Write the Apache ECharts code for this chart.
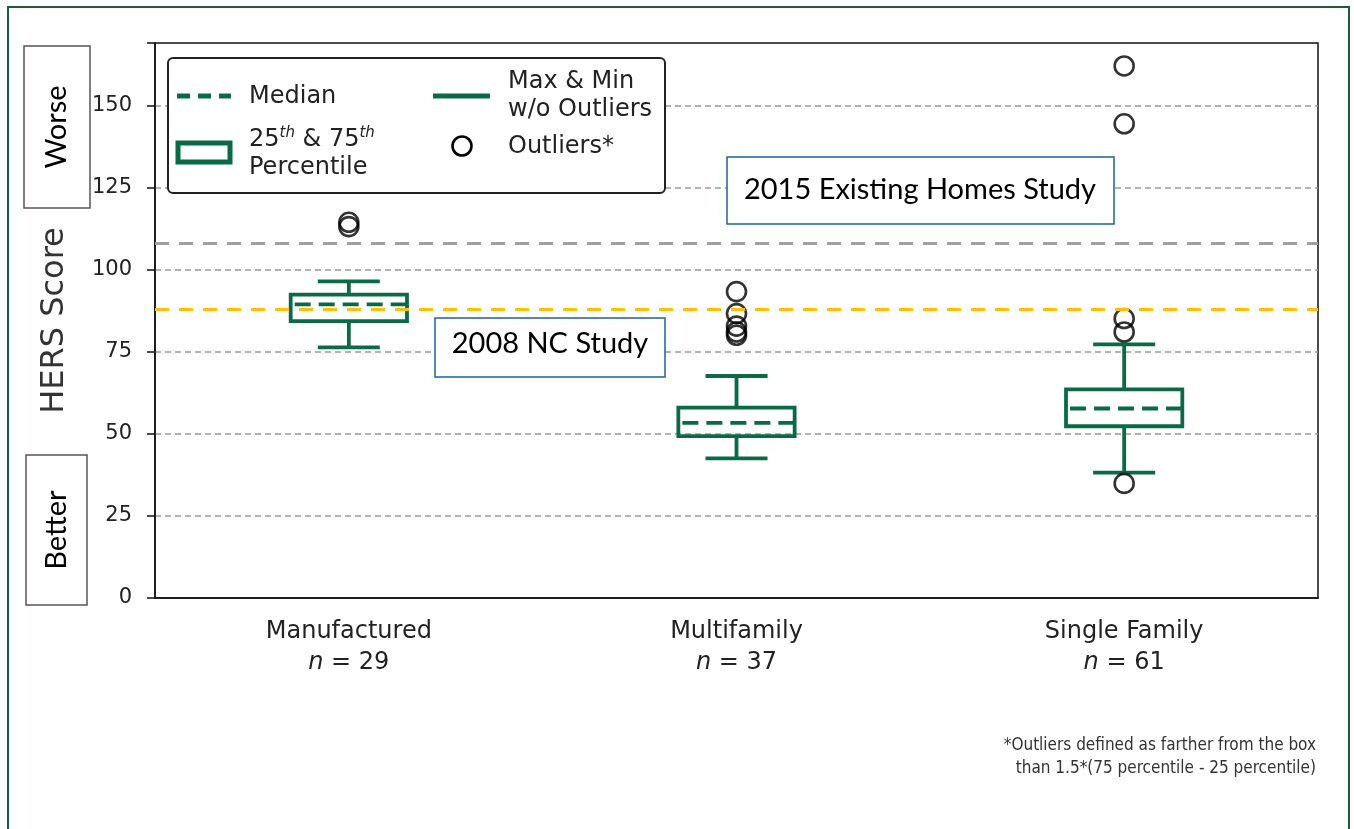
<!DOCTYPE html>
<html>
<head>
<meta charset="utf-8">
<script src="https://cdn.jsdelivr.net/npm/echarts@6/dist/echarts.min.js"></script>
<style>
  html, body { margin: 0; padding: 0; background: #fff; }
  #main { width: 1354px; height: 829px; }
</style>
</head>
<body>
<div id="main"></div>
<script>
var categories = ['Manufactured', 'Multifamily', 'Single Family'];
var counts = [29, 37, 61];
var whiskerLow = [76.3, 42.5, 38.2];
var q1 = [84.3, 49.3, 52.3];
var median = [89.4, 53.3, 57.7];
var q3 = [92.4, 58.0, 63.5];
var whiskerHigh = [96.4, 67.6, 77.2];
var outliersManufactured = [114.4, 113.1];
var outliersMultifamily = [93.3, 86.6, 82.8, 81.0, 80.0];
var outliersSingleFamily = [162.0, 144.4, 85.1, 81.0, 34.9];
var yTicks = [0, 25, 50, 75, 100, 125, 150];
var refExistingHomes = 108;
var refNCStudy = 88;

var green = '#0b6a46';
var myChart = echarts.init(document.getElementById('main'));

var boxData = categories.map(function (c, i) {
    return [i, whiskerLow[i], q1[i], median[i], q3[i], whiskerHigh[i]];
});
var outlierData = [];
[outliersManufactured, outliersMultifamily, outliersSingleFamily].forEach(function (arr, i) {
    arr.forEach(function (v) { outlierData.push([i, v]); });
});

// box + whiskers + dashed median, drawn through the axis scales
function renderBox(params, api) {
    var x = api.value(0);
    var lo = api.coord([x, api.value(1)]);
    var p25 = api.coord([x, api.value(2)]);
    var med = api.coord([x, api.value(3)]);
    var p75 = api.coord([x, api.value(4)]);
    var hi = api.coord([x, api.value(5)]);
    var band = api.size([1, 0])[0];
    var bw = band * 0.30, cw = band * 0.16;
    var cx = lo[0];
    var st = { stroke: green, lineWidth: 3.8, fill: null };
    return {
        type: 'group',
        children: [
            { type: 'line', shape: { x1: cx, y1: hi[1], x2: cx, y2: p75[1] }, style: st },
            { type: 'line', shape: { x1: cx, y1: p25[1], x2: cx, y2: lo[1] }, style: st },
            { type: 'line', shape: { x1: cx - cw / 2, y1: hi[1], x2: cx + cw / 2, y2: hi[1] }, style: st },
            { type: 'line', shape: { x1: cx - cw / 2, y1: lo[1], x2: cx + cw / 2, y2: lo[1] }, style: st },
            { type: 'rect', shape: { x: cx - bw / 2, y: p75[1], width: bw, height: p25[1] - p75[1] }, style: { stroke: green, lineWidth: 3.8, fill: 'rgba(255,255,255,0)' } },
            { type: 'line', shape: { x1: cx - bw / 2 + 4, y1: med[1], x2: cx + bw / 2, y2: med[1] }, style: { stroke: green, lineWidth: 3.8, lineDash: [16, 8] } }
        ]
    };
}

var tickFont = 'DejaVu Sans';
var noteFont = 'Lato, sans-serif';

option = {
    animation: false,
    backgroundColor: '#fff',
    grid: {
        left: 155, right: 36, top: 43, bottom: 231,
        show: true, borderColor: '#111', borderWidth: 1.5, backgroundColor: 'transparent'
    },
    xAxis: {
        type: 'category',
        data: categories,
        axisLine: { lineStyle: { color: '#111', width: 1.5 } },
        axisTick: { alignWithLabel: true, length: 8, lineStyle: { color: '#111', width: 1.5 } },
        axisLabel: {
            margin: 18,
            color: '#222',
            fontFamily: tickFont,
            fontSize: 24,
            lineHeight: 31,
            formatter: function (v, i) {
                return v + '\n{it|n} = ' + counts[i];
            },
            rich: {
                it: { fontStyle: 'italic', fontFamily: tickFont, fontSize: 24, color: '#222' }
            }
        },
        splitLine: { show: false }
    },
    yAxis: {
        type: 'value',
        min: 0,
        max: 169,
        interval: 25,
        name: 'HERS Score',
        nameLocation: 'middle',
        nameGap: 84,
        nameTextStyle: { fontFamily: tickFont, fontSize: 32, color: '#333' },
        axisLine: { show: true, lineStyle: { color: '#111', width: 1.5 } },
        axisTick: { show: true, length: 8, lineStyle: { color: '#111', width: 1.5 } },
        axisLabel: {
            margin: 23,
            color: '#222',
            fontFamily: tickFont,
            fontSize: 21,
            formatter: function (v) { return yTicks.indexOf(v) >= 0 ? String(v) : ''; }
        },
        splitLine: { show: true, showMinLine: false, showMaxLine: false, lineStyle: { color: '#9a9a9a', width: 1.5, type: [6, 4] } }
    },
    series: [
        {
            name: 'Boxes',
            type: 'custom',
            renderItem: renderBox,
            data: boxData,
            z: 3,
            markLine: {
                silent: true,
                symbol: 'none',
                label: { show: false },
                data: [
                    { yAxis: refExistingHomes, lineStyle: { color: '#a0a0a0', width: 3, type: [14, 10] } },
                    { yAxis: refNCStudy, lineStyle: { color: '#ffc000', width: 3, type: [14, 10] } }
                ]
            }
        },
        {
            name: 'Outliers',
            type: 'scatter',
            data: outlierData,
            symbol: 'circle',
            symbolSize: 19,
            itemStyle: { color: 'rgba(255,255,255,0)', borderColor: '#000', borderWidth: 2.6 },
            z: 4
        }
    ],
    graphic: [
        // outer frame
        { type: 'rect', shape: { x: 8, y: 7, width: 1341, height: 840 }, style: { fill: null, stroke: '#1d5b3f', lineWidth: 2 }, z: 0 },
        // legend
        { type: 'rect', shape: { x: 168, y: 58, width: 497, height: 135, r: 5 }, style: { fill: '#fff', stroke: '#222', lineWidth: 2 }, z: 10 },
        { type: 'line', shape: { x1: 177, y1: 96, x2: 231, y2: 96 }, style: { stroke: green, lineWidth: 5, lineDash: [13, 8] }, z: 11 },
        { type: 'text', x: 249, y: 97, style: { text: 'Median', font: '24px DejaVu Sans', fill: '#222', verticalAlign: 'middle' }, z: 11 },
        { type: 'rect', shape: { x: 178, y: 143, width: 52, height: 19 }, style: { fill: '#fff', stroke: green, lineWidth: 5 }, z: 11 },
        { type: 'text', x: 249, y: 140, style: { text: '25{sup|th} & 75{sup|th}', font: '24px DejaVu Sans', fill: '#222', verticalAlign: 'middle', rich: { sup: { font: 'italic 15px DejaVu Sans', fill: '#222', verticalAlign: 'top', padding: [0, 0, 14, 0] } } }, z: 11 },
        { type: 'text', x: 249, y: 168, style: { text: 'Percentile', font: '24px DejaVu Sans', fill: '#222', verticalAlign: 'middle' }, z: 11 },
        { type: 'line', shape: { x1: 433, y1: 96, x2: 490, y2: 96 }, style: { stroke: green, lineWidth: 5 }, z: 11 },
        { type: 'text', x: 508, y: 82, style: { text: 'Max & Min', font: '24px DejaVu Sans', fill: '#222', verticalAlign: 'middle' }, z: 11 },
        { type: 'text', x: 508, y: 110, style: { text: 'w/o Outliers', font: '24px DejaVu Sans', fill: '#222', verticalAlign: 'middle' }, z: 11 },
        { type: 'circle', shape: { cx: 462, cy: 146, r: 9.5 }, style: { fill: null, stroke: '#000', lineWidth: 2.6 }, z: 11 },
        { type: 'text', x: 508, y: 147, style: { text: 'Outliers*', font: '24px DejaVu Sans', fill: '#222', verticalAlign: 'middle' }, z: 11 },
        // study annotations
        { type: 'rect', shape: { x: 727, y: 157, width: 387, height: 67 }, style: { fill: '#fff', stroke: '#1f6391', lineWidth: 1.5 }, z: 10 },
        { type: 'text', x: 920, y: 190, style: { text: '2015 Existing Homes Study', font: '29px ' + noteFont, fill: '#000', align: 'center', verticalAlign: 'middle' }, z: 11 },
        { type: 'rect', shape: { x: 435, y: 318, width: 230, height: 59 }, style: { fill: '#fff', stroke: '#1f6391', lineWidth: 1.5 }, z: 10 },
        { type: 'text', x: 550, y: 344, style: { text: '2008 NC Study', font: '29px ' + noteFont, fill: '#000', align: 'center', verticalAlign: 'middle' }, z: 11 },
        // worse / better
        { type: 'rect', shape: { x: 24, y: 46, width: 66, height: 162 }, style: { fill: '#fff', stroke: '#555', lineWidth: 1.5 }, z: 10 },
        { type: 'text', x: 57, y: 127, rotation: Math.PI / 2, style: { text: 'Worse', font: '29px ' + noteFont, fill: '#000', align: 'center', verticalAlign: 'middle' }, z: 11 },
        { type: 'rect', shape: { x: 26, y: 455, width: 61, height: 150 }, style: { fill: '#fff', stroke: '#555', lineWidth: 1.5 }, z: 10 },
        { type: 'text', x: 57, y: 530, rotation: Math.PI / 2, style: { text: 'Better', font: '29px ' + noteFont, fill: '#000', align: 'center', verticalAlign: 'middle' }, z: 11 },
        // footnote
        { type: 'text', x: 1316, y: 746, style: { text: '*Outliers defined as farther from the box', font: '17px DejaVu Sans Condensed', fill: '#333', align: 'right', verticalAlign: 'middle' }, z: 11 },
        { type: 'text', x: 1316, y: 769, style: { text: 'than 1.5*(75 percentile - 25 percentile)', font: '17px DejaVu Sans Condensed', fill: '#333', align: 'right', verticalAlign: 'middle' }, z: 11 }
    ]
};
myChart.setOption(option);
</script>
</body>
</html>
